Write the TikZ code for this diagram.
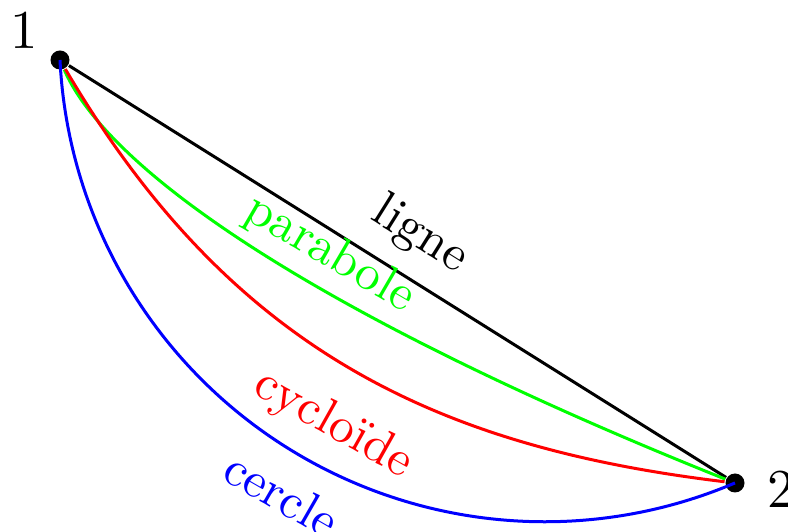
\documentclass[11pt,tikz,border=0pt]{standalone}
\usetikzlibrary{positioning}
\begin{document}
\begin{tikzpicture}[x=0.2pt,y=0.2pt,
  dot/.style={circle,fill,inner sep=0pt,minimum size=3.8pt},
  courbe/.style={semithick,#1},courbe/.default=black,
  lbl/.style={font=\small,sloped}]
  \useasboundingbox (0,0) rectangle (788,-532);
  \node[dot] (p1) at (60,-60) {};
  \node[dot] (p2) at (735,-483) {};
  \node (n1) at (24,-30) {1};
  \node (n2) at (781.5,-489.5) {2};
  \draw[courbe] (p1) -- (p2) node[lbl,midway,above] {ligne};
  \draw[courbe=green] (p1) .. controls (110,-175) and (330,-321) .. (p2)
    node[lbl,pos=0.57,above=-1.5pt] {parabole};
  \draw[courbe=red] (p1) .. controls (230,-349) and (435,-447) .. (p2)
    node[lbl,pos=0.52,below=3pt] {cycloïde};
  \draw[courbe=blue] (p1.center) arc[start angle=182.79,end angle=293.07,radius=485.4]
    node[lbl,pos=0.52,below=1pt] {cercle};
\end{tikzpicture}
\end{document}
